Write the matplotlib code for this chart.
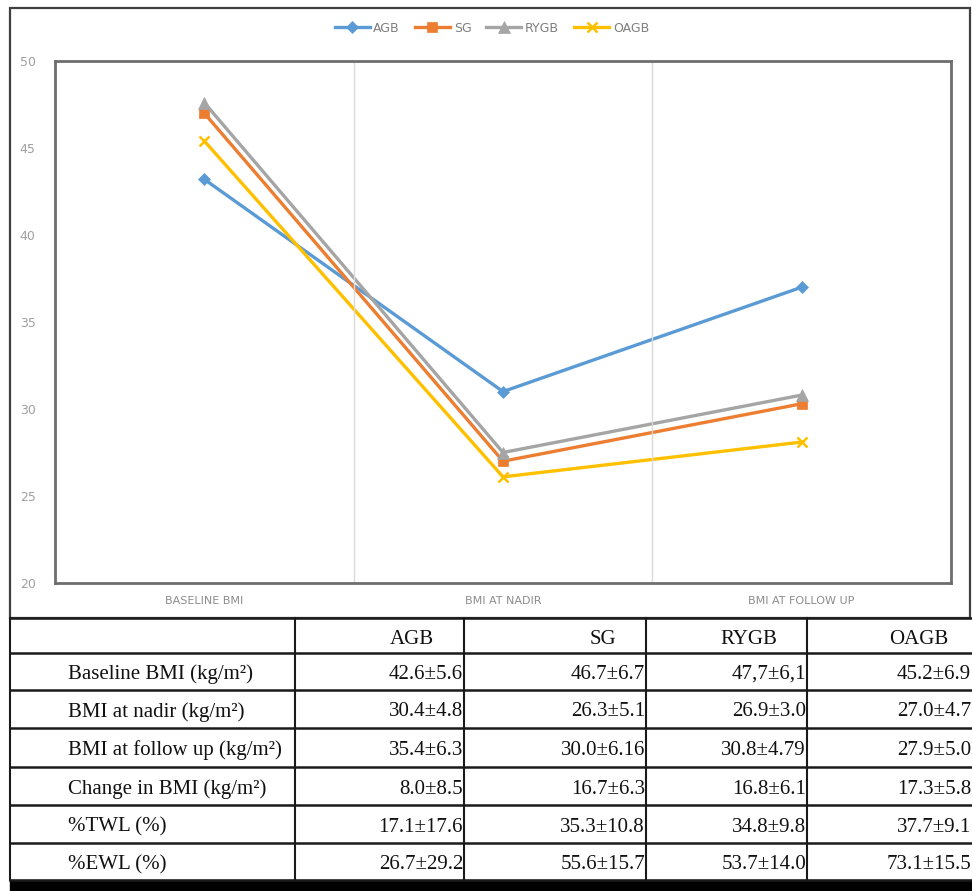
import matplotlib.pyplot as plt
from matplotlib.patches import Rectangle

# chart data
stages = ["BASELINE BMI", "BMI AT NADIR", "BMI AT FOLLOW UP"]
agb = [43.2, 31.0, 37.0]
sg = [47.0, 27.0, 30.3]
rygb = [47.6, 27.5, 30.8]
oagb = [45.4, 26.1, 28.1]

# table data
groups = ["AGB", "SG", "RYGB", "OAGB"]
row_labels = ["Baseline BMI (kg/m\u00b2)", "BMI at nadir (kg/m\u00b2)",
              "BMI at follow up (kg/m\u00b2)", "Change in BMI (kg/m\u00b2)",
              "%TWL (%)", "%EWL (%)"]
cells = [
    ["42.6\u00b15.6", "46.7\u00b16.7", "47,7\u00b16,1", "45.2\u00b16.9"],
    ["30.4\u00b14.8", "26.3\u00b15.1", "26.9\u00b13.0", "27.0\u00b14.7"],
    ["35.4\u00b16.3", "30.0\u00b16.16", "30.8\u00b14.79", "27.9\u00b15.0"],
    ["8.0\u00b18.5", "16.7\u00b16.3", "16.8\u00b16.1", "17.3\u00b15.8"],
    ["17.1\u00b117.6", "35.3\u00b110.8", "34.8\u00b19.8", "37.7\u00b19.1"],
    ["26.7\u00b129.2", "55.6\u00b115.7", "53.7\u00b114.0", "73.1\u00b115.5"],
]

W, H = 972, 891
fig = plt.figure(figsize=(W / 100, H / 100), dpi=100)

# overlay for borders and the table, in pixel coords
bg = fig.add_axes([0, 0, 1, 1])
bg.set_xlim(0, W)
bg.set_ylim(H, 0)
bg.axis("off")

ax = fig.add_axes([55 / W, 1 - 583 / H, 896 / W, 522 / H])

series = [("AGB", agb, "#5B9BD5", "D", 6),
          ("SG", sg, "#ED7D31", "s", 7),
          ("RYGB", rygb, "#A5A5A5", "^", 8),
          ("OAGB", oagb, "#FFC000", "x", 7)]
x = range(len(stages))
for name, vals, col, mk, ms in series:
    ax.plot(x, vals, color=col, lw=2.4, marker=mk, markersize=ms,
            markeredgewidth=1.8 if mk == "x" else 0.5, label=name)

ax.set_xlim(-0.5, 2.5)
ax.set_ylim(20, 50)
ax.set_yticks(range(20, 51, 5))
ax.set_xticks(list(x))
ax.set_xticklabels(stages, fontsize=8, color="#8C8C8C")
ax.tick_params(axis="y", labelsize=9, colors="#A0A0A0", length=0, pad=14)
ax.tick_params(axis="x", length=0, pad=9)
for lx in [0.5, 1.5]:
    ax.axvline(lx, color="#D9D9D9", lw=1)
for s in ax.spines.values():
    s.set_color("#6E6E6E")
    s.set_linewidth(2)

leg = fig.legend(loc="center", bbox_to_anchor=(0.506, 1 - 28 / H), ncol=4,
                 frameon=False, handlelength=2.8, columnspacing=1.2,
                 handletextpad=0.3,
                 prop={"family": ["Liberation Sans Narrow", "DejaVu Sans"], "size": 9})
for t in leg.get_texts():
    t.set_color("#7F7F7F")

# chart outer box
bg.add_patch(Rectangle((10, 8), 960, 610, fill=False, ec="#404040", lw=1.6))

# table grid
row_y = [618, 653, 690, 728, 767, 805, 843, 880]
col_x = [10, 295, 464, 646, 807, 972]
for yy in row_y:
    bg.plot([10, W], [yy, yy], color="#1A1A1A", lw=1.8)
for xx in col_x[:-1]:
    bg.plot([xx, xx], [618, 880], color="#1A1A1A", lw=1.5)

serif = "Liberation Serif"
fs = 15
for j, g in enumerate(groups):
    bg.text(col_x[j + 2] - 30 if j < 3 else 948, (row_y[0] + row_y[1]) / 2 + 4, g,
            ha="right", va="center", fontsize=fs, family=serif, color="#111111")
for i, lab in enumerate(row_labels):
    yc = (row_y[i + 1] + row_y[i + 2]) / 2 + 3
    bg.text(68, yc, lab, ha="left", va="center", fontsize=fs, family=serif, color="#111111")
    for j, v in enumerate(cells[i]):
        bg.text(col_x[j + 2] - 1, yc, v, ha="right", va="center", fontsize=fs,
                family=serif, color="#111111")

bg.add_patch(Rectangle((10, 880), W - 10, 11, color="black"))

fig.savefig("out.png", dpi=100)
